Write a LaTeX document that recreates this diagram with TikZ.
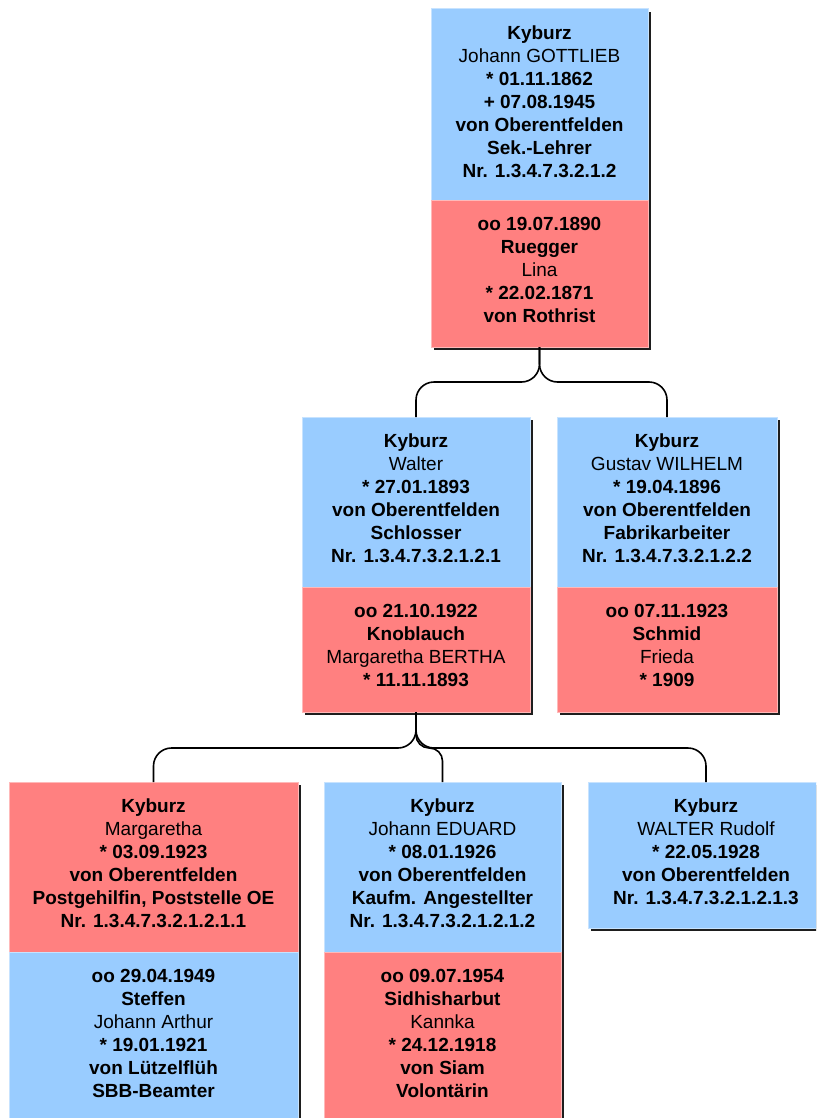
\documentclass[tikz,border=0pt]{standalone}
\usepackage{fontspec}
\setmainfont{Liberation Sans}
\definecolor{pblue}{HTML}{99CCFF}
\definecolor{pred}{HTML}{FF8080}
\definecolor{pshadow}{HTML}{1E1E1E}
\tikzset{
 halfbox/.style={rectangle, anchor=north west, inner sep=0pt, outer sep=0pt, line width=1pt},
 bluehalf/.style={halfbox, fill=pblue, draw=pblue!55!white},
 redhalf/.style={halfbox, fill=pred, draw=pred!55!white},
 txt/.style={anchor=north, inner sep=0pt, align=center, font=\fontsize{19}{23}\selectfont, text=black},
 shadowfill/.style={fill=pshadow},
 link/.style={draw=black, line width=1.6pt, rounded corners=18pt},
}
\newcommand\halfnode[7]{%
 \node[#2, minimum width=#5pt, minimum height=#6pt] (#1) at (#3,#4) {};
 \node[txt] (#1t) at ([yshift=-14pt]#1.north) {\strut #7};
}
\begin{document}
\begin{tikzpicture}[x=1pt,y=-1pt]
\path[use as bounding box, clip] (0,0) rectangle (816,1118);
% shadows
\fill[shadowfill] (434,12) rectangle (651,350);
\fill[shadowfill] (305,420) rectangle (533,715);
\fill[shadowfill] (560,420) rectangle (780,715);
\fill[shadowfill] (12,785) rectangle (301,1135);
\fill[shadowfill] (327,785) rectangle (564,1135);
\fill[shadowfill] (591,785) rectangle (827,931);
% generation 1
\halfnode{p1b}{bluehalf}{431}{9}{217}{191}{\textbf{Kyburz}\\Johann GOTTLIEB\\\textbf{* 01.11.1862}\\\textbf{+ 07.08.1945}\\\textbf{von Oberentfelden}\\\textbf{Sek.-Lehrer}\\\textbf{Nr. 1.3.4.7.3.2.1.2}}
\halfnode{p1r}{redhalf}{431}{200}{217}{147}{\textbf{oo 19.07.1890}\\\textbf{Ruegger}\\Lina\\\textbf{* 22.02.1871}\\\textbf{von Rothrist}}
% generation 2
\halfnode{p2b}{bluehalf}{302}{417}{228}{170}{\textbf{Kyburz}\\Walter\\\textbf{* 27.01.1893}\\\textbf{von Oberentfelden}\\\textbf{Schlosser}\\\textbf{Nr. 1.3.4.7.3.2.1.2.1}}
\halfnode{p2r}{redhalf}{302}{587}{228}{125}{\textbf{oo 21.10.1922}\\\textbf{Knoblauch}\\Margaretha BERTHA\\\textbf{* 11.11.1893}}
\halfnode{p3b}{bluehalf}{557}{417}{220}{170}{\textbf{Kyburz}\\Gustav WILHELM\\\textbf{* 19.04.1896}\\\textbf{von Oberentfelden}\\\textbf{Fabrikarbeiter}\\\textbf{Nr. 1.3.4.7.3.2.1.2.2}}
\halfnode{p3r}{redhalf}{557}{587}{220}{125}{\textbf{oo 07.11.1923}\\\textbf{Schmid}\\Frieda\\\textbf{* 1909}}
% generation 3
\halfnode{c1r}{redhalf}{9}{782}{289}{170}{\textbf{Kyburz}\\Margaretha\\\textbf{* 03.09.1923}\\\textbf{von Oberentfelden}\\\textbf{Postgehilfin, Poststelle OE}\\\textbf{Nr. 1.3.4.7.3.2.1.2.1.1}}
\halfnode{c1b}{bluehalf}{9}{952}{289}{180}{\textbf{oo 29.04.1949}\\\textbf{Steffen}\\Johann Arthur\\\textbf{* 19.01.1921}\\\textbf{von Lützelflüh}\\\textbf{SBB-Beamter}}
\halfnode{c2b}{bluehalf}{324}{782}{237}{170}{\textbf{Kyburz}\\Johann EDUARD\\\textbf{* 08.01.1926}\\\textbf{von Oberentfelden}\\\textbf{Kaufm. Angestellter}\\\textbf{Nr. 1.3.4.7.3.2.1.2.1.2}}
\halfnode{c2r}{redhalf}{324}{952}{237}{180}{\textbf{oo 09.07.1954}\\\textbf{Sidhisharbut}\\Kannka\\\textbf{* 24.12.1918}\\\textbf{von Siam}\\\textbf{Volontärin}}
\halfnode{c3b}{bluehalf}{588}{782}{236}{146}{\textbf{Kyburz}\\WALTER Rudolf\\\textbf{* 22.05.1928}\\\textbf{von Oberentfelden}\\\textbf{Nr. 1.3.4.7.3.2.1.2.1.3}}
% connectors
\draw[link] (p1r.south) -- ++(0,35) -| (p2b.north);
\draw[link] (p1r.south) -- ++(0,35) -| (p3b.north);
\draw[link] (p2r.south) -- ++(0,36) -| (c1r.north);
\draw[link, rounded corners=13pt] (p2r.south) -- ++(0,36) -| (c2b.north);
\draw[link] (p2r.south) -- ++(0,36) -| (c3b.north);
\end{tikzpicture}
\end{document}
